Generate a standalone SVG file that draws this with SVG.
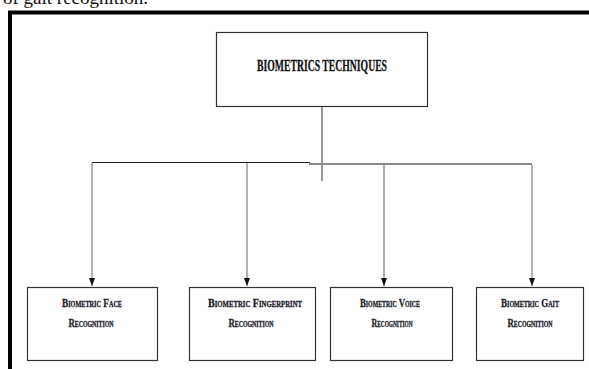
<svg xmlns="http://www.w3.org/2000/svg" width="589" height="369" viewBox="0 0 589 369">
<defs>
<style>
.box{fill:#fff;stroke:#333;stroke-width:1.2}
.lbl{font-family:"Liberation Serif",serif;font-weight:bold;font-variant:small-caps;font-size:12px;fill:#1c1c2a;stroke:#1c1c2a;stroke-width:0.3;text-anchor:middle}
.title{font-family:"Liberation Serif",serif;font-weight:bold;font-size:16px;fill:#111;stroke:#111;stroke-width:0.3;text-anchor:middle}
.conn{stroke:#999;stroke-width:1.5;fill:none}
</style>
<marker id="ah" viewBox="0 0 8 6" refX="8" refY="3" markerWidth="8" markerHeight="6" markerUnits="userSpaceOnUse" orient="auto">
<path d="M0,0 L8,3 L0,6 Z" fill="#111"/>
</marker>
</defs>
<rect width="589" height="369" fill="#fff"/>
<text x="3" y="4" font-family="Liberation Serif,serif" font-size="19" fill="#111">of gait recognition.</text>
<path d="M10,369 V12.5 H589" fill="none" stroke="#000" stroke-width="4"/>
<g id="root">
<rect class="box" x="216.5" y="32.5" width="211" height="74"/>
<text class="title" x="322" y="71" textLength="130" lengthAdjust="spacingAndGlyphs">BIOMETRICS TECHNIQUES</text>
</g>
<g id="connectors">
<line x1="322" y1="107" x2="322" y2="181" stroke="#333" stroke-width="1"/>
<line x1="92" y1="162.5" x2="310" y2="162.5" stroke="#222" stroke-width="1"/>
<line x1="309" y1="164" x2="532" y2="164" stroke="#888" stroke-width="2"/>
<line class="conn" x1="92" y1="163" x2="92" y2="286" marker-end="url(#ah)"/>
<line class="conn" x1="247" y1="163" x2="247" y2="286" marker-end="url(#ah)"/>
<line class="conn" x1="384" y1="165" x2="384" y2="286" marker-end="url(#ah)"/>
<line class="conn" x1="532" y1="165" x2="532" y2="286" marker-end="url(#ah)"/>
</g>
<g id="face">
<rect class="box" x="27.5" y="287.5" width="130" height="73"/>
<text class="lbl" x="92" y="307" textLength="60" lengthAdjust="spacingAndGlyphs">Biometric Face</text>
<text class="lbl" x="91" y="327" textLength="45" lengthAdjust="spacingAndGlyphs">Recognition</text>
</g>
<g id="fingerprint">
<rect class="box" x="189.5" y="287.5" width="126" height="73"/>
<text class="lbl" x="255" y="307" textLength="94" lengthAdjust="spacingAndGlyphs">Biometric Fingerprint</text>
<text class="lbl" x="251" y="327" textLength="45" lengthAdjust="spacingAndGlyphs">Recognition</text>
</g>
<g id="voice">
<rect class="box" x="330.5" y="287.5" width="122" height="73"/>
<text class="lbl" x="390" y="307" textLength="60" lengthAdjust="spacingAndGlyphs">Biometric Voice</text>
<text class="lbl" x="392" y="327" textLength="41" lengthAdjust="spacingAndGlyphs">Recognition</text>
</g>
<g id="gait">
<rect class="box" x="476.5" y="287.5" width="107" height="73"/>
<text class="lbl" x="530" y="307" textLength="58" lengthAdjust="spacingAndGlyphs">Biometric Gait</text>
<text class="lbl" x="530" y="327" textLength="45" lengthAdjust="spacingAndGlyphs">Recognition</text>
</g>
</svg>
